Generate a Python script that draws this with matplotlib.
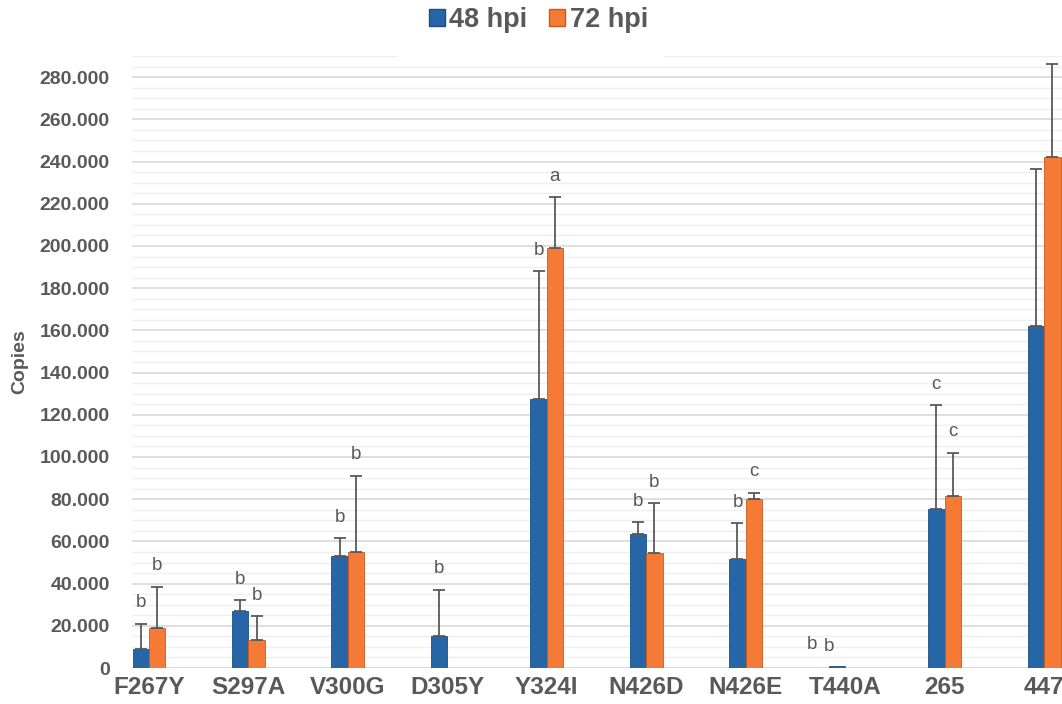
import matplotlib
matplotlib.use("Agg")
import matplotlib.pyplot as plt
from matplotlib.patches import Patch, Rectangle
from matplotlib.ticker import MultipleLocator, FuncFormatter
import numpy as np

# data (values in thousands of copies)
categories = ["F267Y", "S297A", "V300G", "D305Y", "Y324I", "N426D", "N426E", "T440A", "265", "447"]
hpi48 = [9, 27, 53, 15, 127.5, 63.5, 51.5, 1, 75.5, 162]
hpi48_err = [12, 5, 8.5, 22, 60.5, 5.5, 17, 0, 49, 74.5]
hpi72 = [19, 13.5, 55, 0, 199, 54.5, 80, 0, 81.5, 242]
hpi72_err = [19.5, 11, 36, 0, 24, 23.5, 3, 0, 20.5, 44]
letters48 = ["b", "b", "b", "b", "b", "b", "b", "b", "c", ""]
letters72 = ["b", "b", "b", "", "a", "b", "c", "b", "c", ""]

blue = "#2766a6"
orange = "#f57a35"
gray = "#595959"

plt.rcParams['font.family'] = ['Liberation Sans', 'DejaVu Sans']

fig = plt.figure(figsize=(10.62, 7.04), dpi=100)
ax = fig.add_axes([0.1243, 0.0511, 0.8757, 0.8693])

x = np.arange(len(categories))
w = 0.165
ax.bar(x - w/2, hpi48, w, color=blue, edgecolor="#1d4f82", linewidth=0.6, zorder=3)
ax.bar(x + w/2, hpi72, w, color=orange, edgecolor="#c85a1c", linewidth=0.6, zorder=3)

# plus-only error bars, skipped where there is none
for xs, vals, errs in [(x - w/2, hpi48, hpi48_err), (x + w/2, hpi72, hpi72_err)]:
    vals = np.array(vals)
    errs = np.array(errs)
    m = errs > 0
    ax.errorbar(xs[m], vals[m], yerr=[np.zeros(m.sum()), errs[m]], fmt="none",
                ecolor=gray, elinewidth=1.3, capsize=4, capthick=1.3, zorder=4)

# significance letters
for i in range(len(categories)):
    dx = -0.25 if hpi48[i] + hpi72[i] < 2 else 0
    if letters48[i]:
        ax.text(x[i] - w/2 + dx, hpi48[i] + hpi48_err[i] + 10, letters48[i],
                ha="center", va="center", fontsize=13.5, color=gray, zorder=4)
    if letters72[i]:
        ax.text(x[i] + w/2 + dx, hpi72[i] + hpi72_err[i] + 10, letters72[i],
                ha="center", va="center", fontsize=13.5, color=gray, zorder=4)

ax.set_ylim(0, 290)
ax.set_xlim(-0.17, 9.18)
ax.yaxis.set_major_locator(MultipleLocator(20))
ax.yaxis.set_minor_locator(MultipleLocator(5))
ax.yaxis.set_major_formatter(FuncFormatter(lambda v, p: "0" if v == 0 else "%d.000" % v))
ax.grid(axis="y", which="major", color="#d9d9d9", linewidth=1.2, zorder=0)
ax.grid(axis="y", which="minor", color="#efefef", linewidth=1.0, zorder=0)
ax.set_axisbelow(True)
for s in ax.spines.values():
    s.set_visible(False)
ax.axhline(0, color="#d9d9d9", linewidth=1.2, zorder=2)

ax.set_xticks(x)
ax.set_xticklabels(categories, fontsize=17.5, fontweight="bold", color=gray)
ax.tick_params(axis="both", which="both", length=0)
ax.tick_params(axis="x", pad=6)
ax.tick_params(axis="y", pad=16)
for t in ax.get_yticklabels():
    t.set_fontsize(14)
    t.set_fontweight("bold")
    t.set_color(gray)
ax.set_ylabel("Copies", fontsize=14, fontweight="bold", color=gray, labelpad=8)

# white box behind legend
fig.patches.append(Rectangle((0.375, 0.915), 0.25, 0.09, transform=fig.transFigure,
                             facecolor="white", edgecolor="none", zorder=5))
handles = [Patch(facecolor=blue, edgecolor="#1d4f82", label="48 hpi"),
           Patch(facecolor=orange, edgecolor="#c85a1c", label="72 hpi")]
leg = fig.legend(handles=handles, loc="center", bbox_to_anchor=(0.507, 0.972), ncol=2,
                 frameon=False, handlelength=0.6, handleheight=0.6, handletextpad=0.15,
                 columnspacing=0.8, prop={"size": 19.5, "weight": "bold"})
leg.set_zorder(6)
for t in leg.get_texts():
    t.set_color(gray)

fig.savefig("out.png", dpi=100)
